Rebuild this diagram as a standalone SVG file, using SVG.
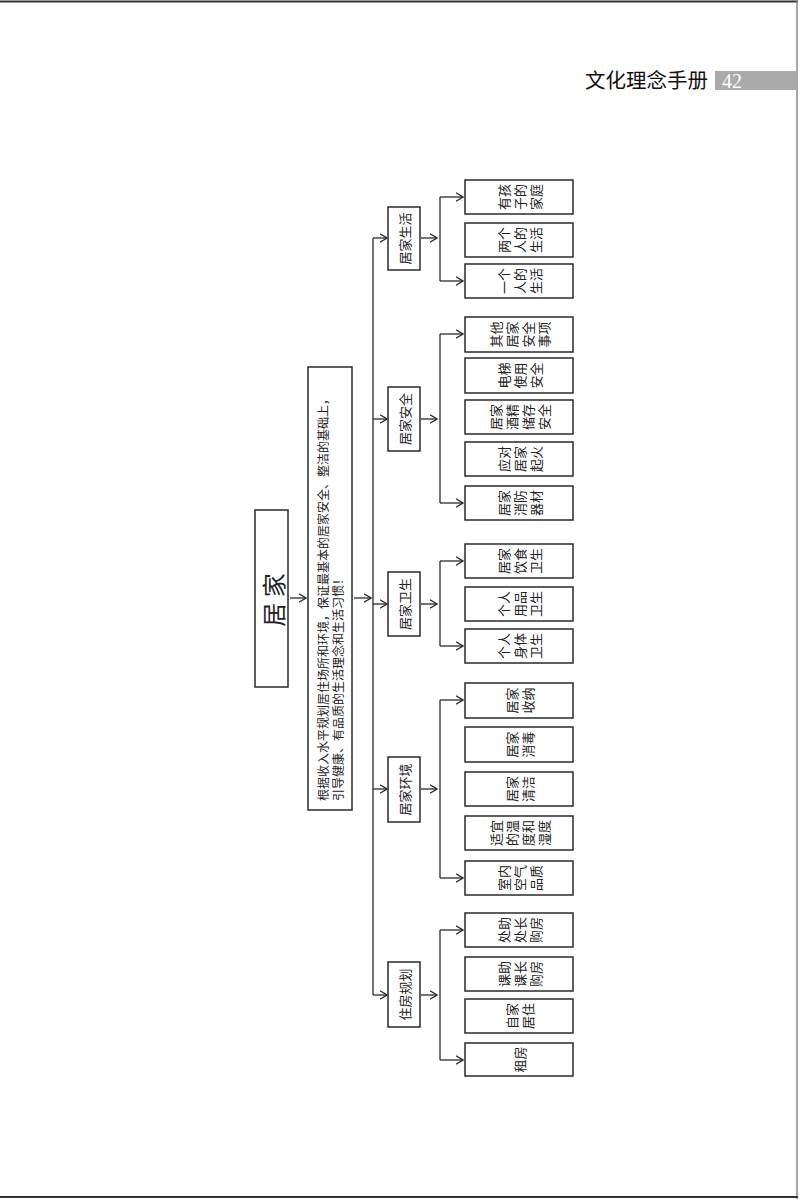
<svg xmlns="http://www.w3.org/2000/svg" width="800" height="1199" viewBox="0 0 800 1199">
<style>
.box{fill:#fff;stroke:#2a2a2a;stroke-width:1.5}
.ln{fill:none;stroke:#2a2a2a;stroke-width:1.3}
.ar{fill:none;stroke:#2a2a2a;stroke-width:1.3;marker-end:url(#ah)}
.t{font-family:"Noto Sans CJK SC","Noto Sans CJK JP",sans-serif;font-size:13px;fill:#222;text-anchor:middle;dominant-baseline:central}
.d{font-family:"Noto Sans CJK SC","Noto Sans CJK JP",sans-serif;font-size:12px;fill:#222;dominant-baseline:central}
</style>
<defs>
<marker id="ah" viewBox="0 0 8 10" refX="7.5" refY="5" markerWidth="8" markerHeight="10" markerUnits="userSpaceOnUse" orient="auto">
<path d="M0.5,0.8 L7.5,5 L0.5,9.2" fill="none" stroke="#2a2a2a" stroke-width="1.3"/>
</marker>
</defs>
<rect width="800" height="1199" fill="#fff"/>
<g id="page">
<line x1="0" y1="1.5" x2="798" y2="1.5" stroke="#333" stroke-width="2"/>
<line x1="797" y1="0" x2="797" y2="1199" stroke="#888" stroke-width="1.5"/>
<line x1="0" y1="1197" x2="798" y2="1197" stroke="#333" stroke-width="2"/>
</g>
<g id="header">
<text x="585" y="88" font-family="'Noto Sans CJK SC',sans-serif" font-size="20.5" fill="#111">文化理念手册</text>
<rect x="715" y="71" width="82" height="19" fill="#aaaaaa"/>
<text x="722" y="88" font-family="'Liberation Serif',serif" font-size="20" fill="#fff">42</text>
</g>
<g id="connectors">
<line class="ar" x1="290" y1="598" x2="306" y2="598"/>
<line class="ar" x1="354" y1="598" x2="371" y2="598"/>
<line class="ln" x1="373" y1="238" x2="373" y2="995"/>
<line class="ar" x1="373" y1="238" x2="387" y2="238"/>
<line class="ar" x1="373" y1="419" x2="387" y2="419"/>
<line class="ar" x1="373" y1="604" x2="387" y2="604"/>
<line class="ar" x1="373" y1="789" x2="387" y2="789"/>
<line class="ar" x1="373" y1="995" x2="387" y2="995"/>
<line class="ar" x1="421" y1="238" x2="437" y2="238"/>
<line class="ar" x1="421" y1="419" x2="437" y2="419"/>
<line class="ar" x1="421" y1="604" x2="437" y2="604"/>
<line class="ar" x1="421" y1="789" x2="437" y2="789"/>
<line class="ar" x1="421" y1="995" x2="437" y2="995"/>
<path class="ln" d="M440,197 V281"/>
<line class="ar" x1="440" y1="197" x2="463" y2="197"/>
<line class="ar" x1="440" y1="281" x2="463" y2="281"/>
<path class="ln" d="M440,334 V503"/>
<line class="ar" x1="440" y1="334" x2="463" y2="334"/>
<line class="ar" x1="440" y1="503" x2="463" y2="503"/>
<path class="ln" d="M440,561 V646"/>
<line class="ar" x1="440" y1="561" x2="463" y2="561"/>
<line class="ar" x1="440" y1="646" x2="463" y2="646"/>
<path class="ln" d="M440,700 V878"/>
<line class="ar" x1="440" y1="700" x2="463" y2="700"/>
<line class="ar" x1="440" y1="878" x2="463" y2="878"/>
<path class="ln" d="M440,930 V1060"/>
<line class="ar" x1="440" y1="930" x2="463" y2="930"/>
<line class="ar" x1="440" y1="1060" x2="463" y2="1060"/>
</g>
<g id="root">
<rect class="box" x="255" y="510" width="33" height="177"/>
<g transform="translate(272,600) rotate(-90)"><text class="t" style="font-size:24px">居 家</text></g>
</g>
<g id="desc">
<rect class="box" x="308" y="367" width="44" height="443"/>
<g transform="translate(322,801) rotate(-90)"><text class="d">根据收入水平规划居住场所和环境，保证最基本的居家安全、整洁的基础上，</text></g>
<g transform="translate(337,801) rotate(-90)"><text class="d">引导健康、有品质的生活理念和生活习惯！</text></g>
</g>
<g id="cat-shenghuo">
<rect class="box" x="388" y="207" width="32" height="63"/>
<g transform="translate(404,238.5) rotate(-90)"><text class="t">居家生活</text></g>
</g>
<g id="cat-anquan">
<rect class="box" x="388" y="387" width="32" height="64"/>
<g transform="translate(404,419) rotate(-90)"><text class="t">居家安全</text></g>
</g>
<g id="cat-weisheng">
<rect class="box" x="388" y="572" width="32" height="64"/>
<g transform="translate(404,604) rotate(-90)"><text class="t">居家卫生</text></g>
</g>
<g id="cat-huanjing">
<rect class="box" x="388" y="757" width="32" height="65"/>
<g transform="translate(404,789.5) rotate(-90)"><text class="t">居家环境</text></g>
</g>
<g id="cat-guihua">
<rect class="box" x="388" y="962" width="32" height="65"/>
<g transform="translate(404,994.5) rotate(-90)"><text class="t">住房规划</text></g>
</g>
<g id="leaf-1-1">
<rect class="box" x="465" y="180" width="108" height="34"/>
<g transform="translate(519,197) rotate(-90)"><text class="t" y="-16">有孩</text><text class="t" y="0">子的</text><text class="t" y="16">家庭</text></g>
</g>
<g id="leaf-1-2">
<rect class="box" x="465" y="223" width="108" height="34"/>
<g transform="translate(519,240) rotate(-90)"><text class="t" y="-16">两个</text><text class="t" y="0">人的</text><text class="t" y="16">生活</text></g>
</g>
<g id="leaf-1-3">
<rect class="box" x="465" y="264" width="108" height="34"/>
<g transform="translate(519,281) rotate(-90)"><text class="t" y="-16">一个</text><text class="t" y="0">人的</text><text class="t" y="16">生活</text></g>
</g>
<g id="leaf-2-1">
<rect class="box" x="465" y="317" width="108" height="35"/>
<g transform="translate(519,334.5) rotate(-90)"><text class="t" y="-24">其他</text><text class="t" y="-8">居家</text><text class="t" y="8">安全</text><text class="t" y="24">事项</text></g>
</g>
<g id="leaf-2-2">
<rect class="box" x="465" y="358" width="108" height="35"/>
<g transform="translate(519,375.5) rotate(-90)"><text class="t" y="-16">电梯</text><text class="t" y="0">使用</text><text class="t" y="16">安全</text></g>
</g>
<g id="leaf-2-3">
<rect class="box" x="465" y="400" width="108" height="34"/>
<g transform="translate(519,417) rotate(-90)"><text class="t" y="-24">居家</text><text class="t" y="-8">酒精</text><text class="t" y="8">储存</text><text class="t" y="24">安全</text></g>
</g>
<g id="leaf-2-4">
<rect class="box" x="465" y="442" width="108" height="34"/>
<g transform="translate(519,459) rotate(-90)"><text class="t" y="-16">应对</text><text class="t" y="0">居家</text><text class="t" y="16">起火</text></g>
</g>
<g id="leaf-2-5">
<rect class="box" x="465" y="486" width="108" height="34"/>
<g transform="translate(519,503) rotate(-90)"><text class="t" y="-16">居家</text><text class="t" y="0">消防</text><text class="t" y="16">器材</text></g>
</g>
<g id="leaf-3-1">
<rect class="box" x="465" y="544" width="108" height="34"/>
<g transform="translate(519,561) rotate(-90)"><text class="t" y="-16">居家</text><text class="t" y="0">饮食</text><text class="t" y="16">卫生</text></g>
</g>
<g id="leaf-3-2">
<rect class="box" x="465" y="587" width="108" height="34"/>
<g transform="translate(519,604) rotate(-90)"><text class="t" y="-16">个人</text><text class="t" y="0">用品</text><text class="t" y="16">卫生</text></g>
</g>
<g id="leaf-3-3">
<rect class="box" x="465" y="629" width="108" height="34"/>
<g transform="translate(519,646) rotate(-90)"><text class="t" y="-16">个人</text><text class="t" y="0">身体</text><text class="t" y="16">卫生</text></g>
</g>
<g id="leaf-4-1">
<rect class="box" x="465" y="683" width="108" height="35"/>
<g transform="translate(519,700.5) rotate(-90)"><text class="t" y="-8">居家</text><text class="t" y="8">收纳</text></g>
</g>
<g id="leaf-4-2">
<rect class="box" x="465" y="727" width="108" height="35"/>
<g transform="translate(519,744.5) rotate(-90)"><text class="t" y="-8">居家</text><text class="t" y="8">消毒</text></g>
</g>
<g id="leaf-4-3">
<rect class="box" x="465" y="772" width="108" height="34"/>
<g transform="translate(519,789) rotate(-90)"><text class="t" y="-8">居家</text><text class="t" y="8">清洁</text></g>
</g>
<g id="leaf-4-4">
<rect class="box" x="465" y="816" width="108" height="34"/>
<g transform="translate(519,833) rotate(-90)"><text class="t" y="-24">适宜</text><text class="t" y="-8">的温</text><text class="t" y="8">度和</text><text class="t" y="24">湿度</text></g>
</g>
<g id="leaf-4-5">
<rect class="box" x="465" y="861" width="108" height="34"/>
<g transform="translate(519,878) rotate(-90)"><text class="t" y="-16">室内</text><text class="t" y="0">空气</text><text class="t" y="16">品质</text></g>
</g>
<g id="leaf-5-1">
<rect class="box" x="465" y="913" width="108" height="34"/>
<g transform="translate(519,930) rotate(-90)"><text class="t" y="-16">处助</text><text class="t" y="0">处长</text><text class="t" y="16">购房</text></g>
</g>
<g id="leaf-5-2">
<rect class="box" x="465" y="957" width="108" height="34"/>
<g transform="translate(519,974) rotate(-90)"><text class="t" y="-16">课助</text><text class="t" y="0">课长</text><text class="t" y="16">购房</text></g>
</g>
<g id="leaf-5-3">
<rect class="box" x="465" y="999" width="108" height="34"/>
<g transform="translate(519,1016) rotate(-90)"><text class="t" y="-8">自家</text><text class="t" y="8">居住</text></g>
</g>
<g id="leaf-5-4">
<rect class="box" x="465" y="1043" width="108" height="33"/>
<g transform="translate(519,1059.5) rotate(-90)"><text class="t">租房</text></g>
</g>
</svg>
